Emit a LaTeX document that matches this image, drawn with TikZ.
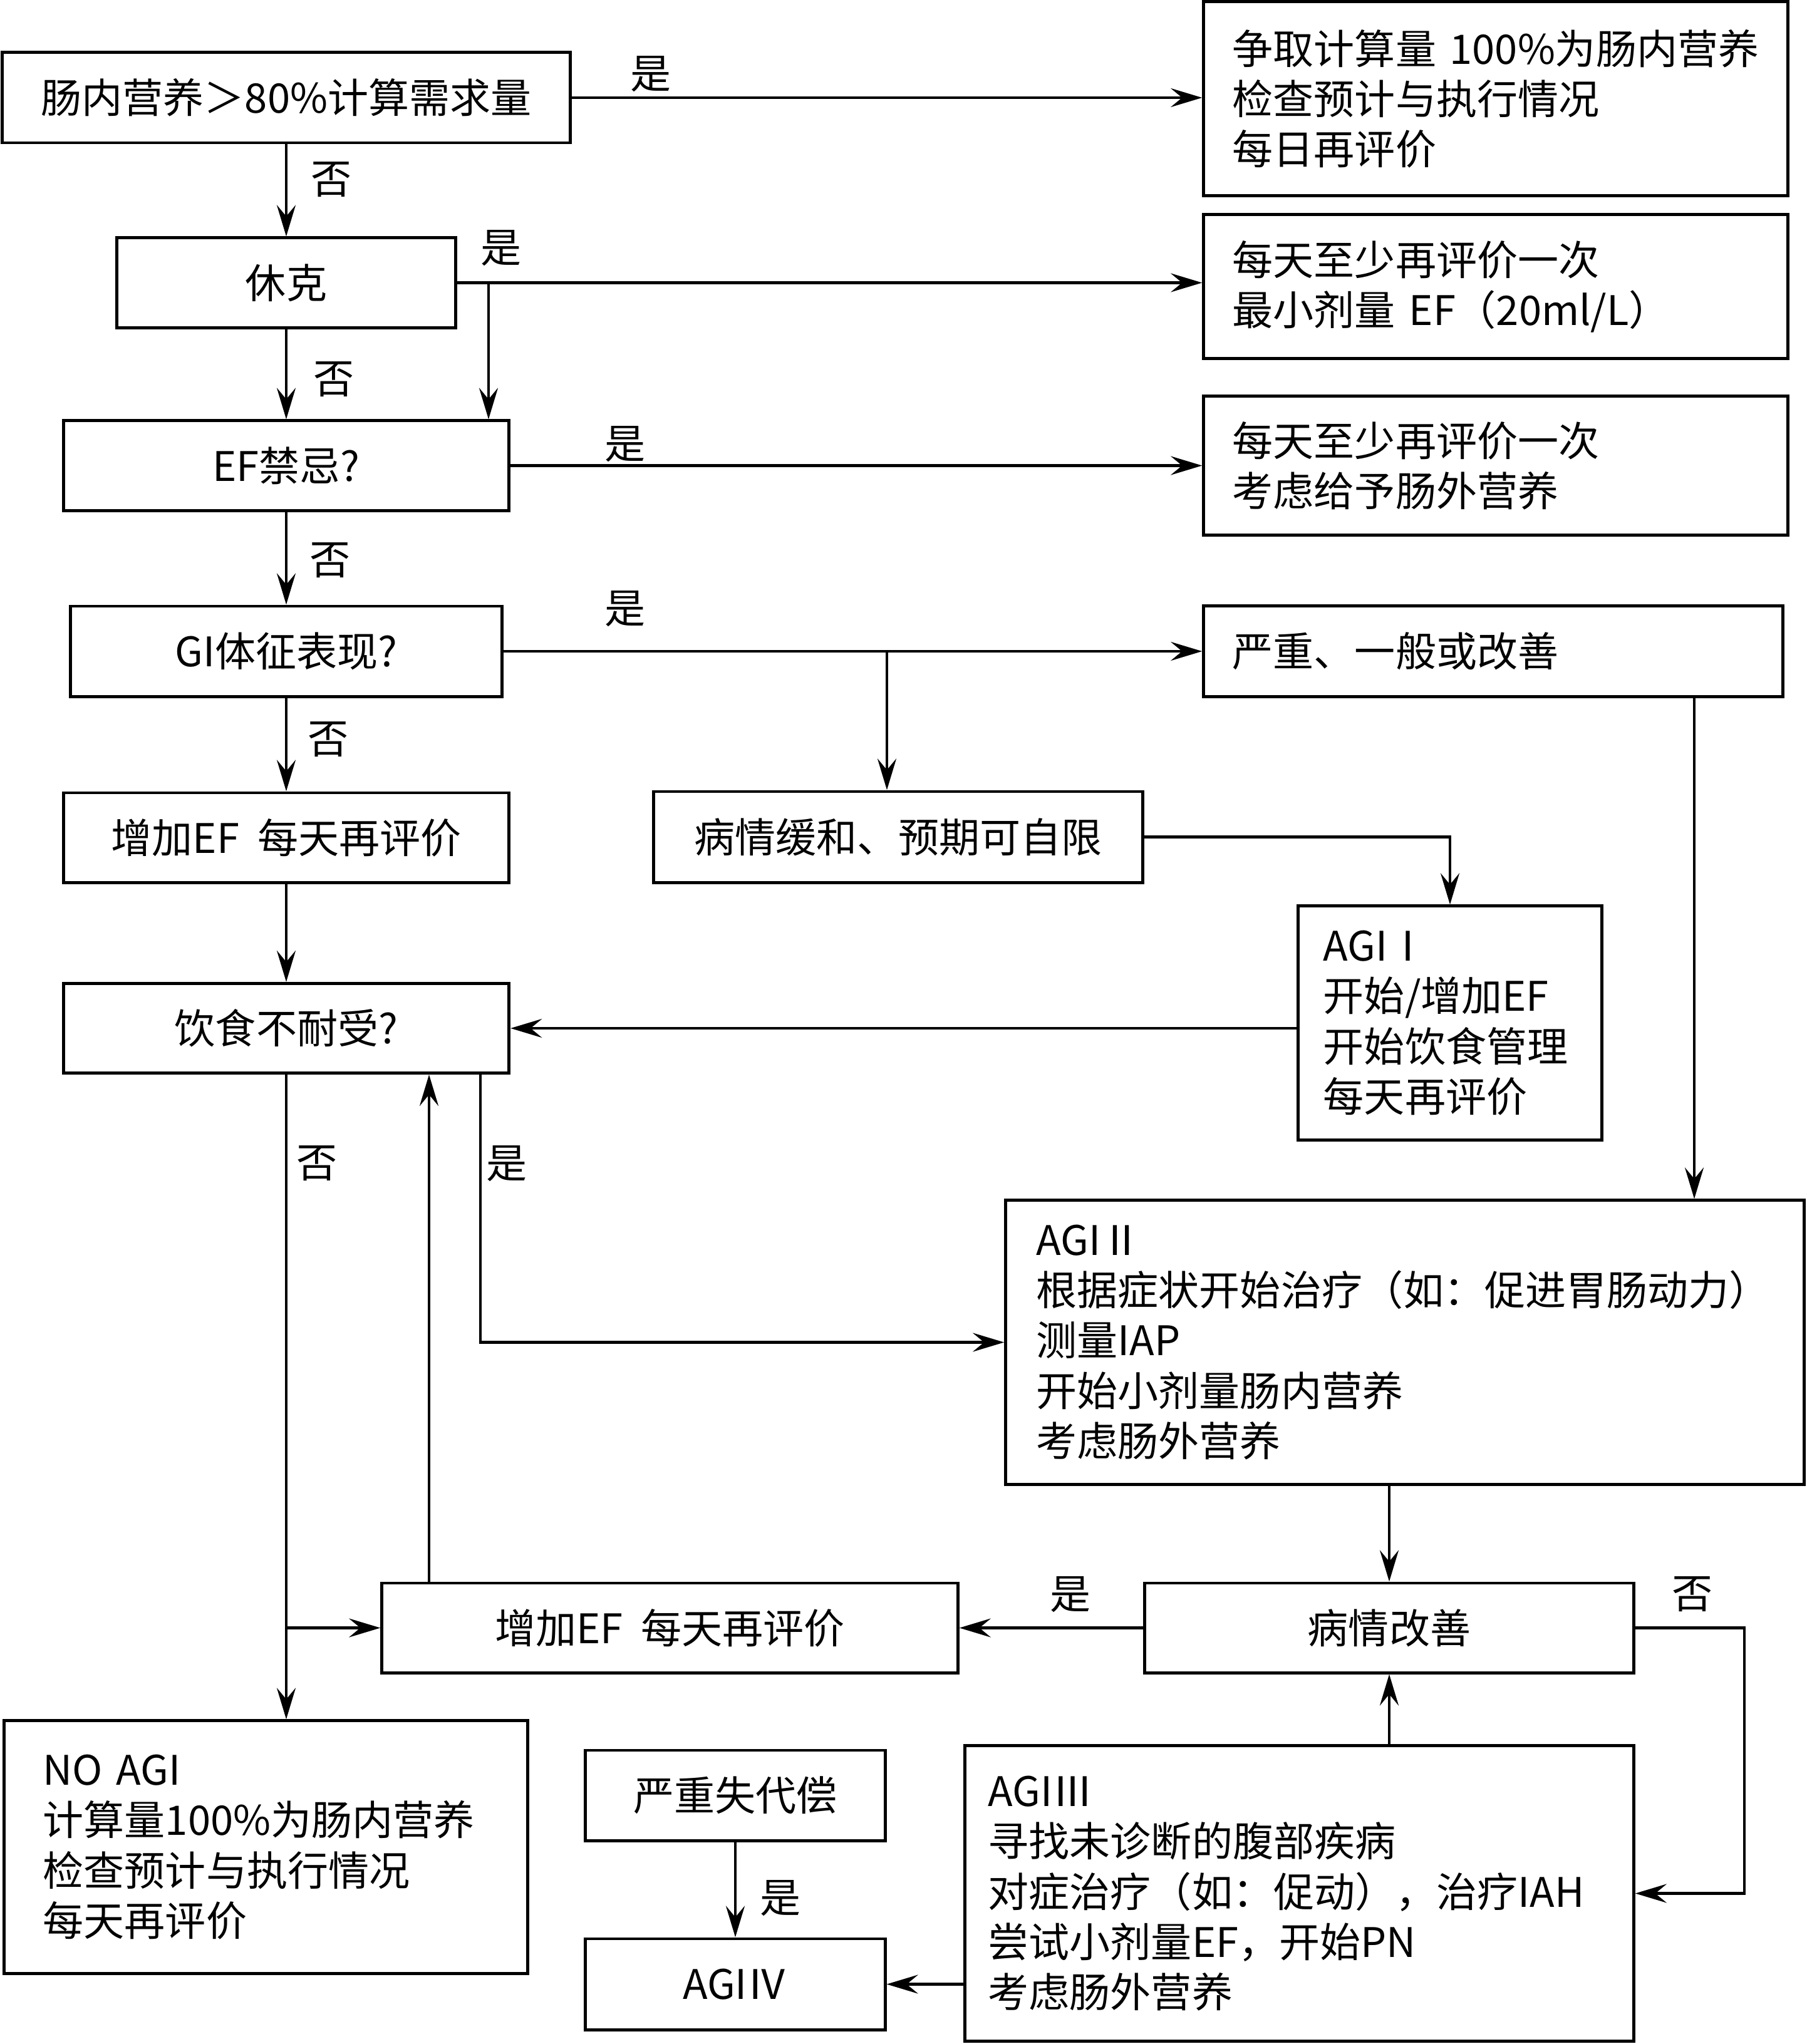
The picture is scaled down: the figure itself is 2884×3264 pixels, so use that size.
\documentclass[tikz,border=0pt]{standalone}
\usepackage{fontspec}
\setmainfont{Noto Sans CJK SC}
\usetikzlibrary{arrows.meta}
\newcommand{\myfont}{\fontsize{18.5}{22.8}\selectfont}
\tikzset{%
  myedge/.style={-{Stealth[length=0.5cm, width=0.3cm, inset=0.18cm]}, line width=1.3pt},
  mybox/.style={rectangle, draw=black, line width=1.4pt, inner sep=0pt, font=\myfont},
  myleft/.style={mybox, align=left},
  mylabel/.style={font=\myfont, inner sep=0pt}
}

\begin{document}
\begin{tikzpicture}[x=0.01cm, y=-0.01cm]
  \useasboundingbox (0,0) rectangle (2884,3264);

% 左列
\node (b1) [mybox, minimum width=9.07cm, minimum height=1.44cm] at (457,156) {肠内营养＞80\%计算需求量};
\node (shock) [mybox, minimum width=5.41cm, minimum height=1.43cm] at (457,451.5) {休克};
\node (efc) [mybox, minimum width=7.11cm, minimum height=1.43cm] at (457,743.5) {EF禁忌?};
\node (gi) [mybox, minimum width=6.88cm, minimum height=1.44cm] at (457,1040) {GI体征表现?};
\node (inc1) [mybox, minimum width=7.11cm, minimum height=1.43cm] at (457,1337.5) {增加EF\ \ 每天再评价};
\node (diet) [mybox, minimum width=7.11cm, minimum height=1.43cm] at (457,1642) {饮食不耐受?};
\node (noagi) [myleft, minimum width=8.35cm, minimum height=4.03cm, text width=7.11cm] at (424.5,2949.5)
  {NO~AGI\\计算量100\%为肠内营养\\检查预计与执行情况\\每天再评价};

% 右列
\node (ra) [myleft, minimum width=9.32cm, minimum height=3.09cm, text width=8.40cm] at (2388,157.5)
  {争取计算量~100\%为肠内营养\\检查预计与执行情况\\每日再评价};
\node (rb) [myleft, minimum width=9.32cm, minimum height=2.29cm, text width=8.40cm] at (2388,457.5)
  {每天至少再评价一次\\最小剂量~EF（20ml/L）};
\node (rc) [myleft, minimum width=9.32cm, minimum height=2.21cm, text width=8.40cm] at (2388,743.5)
  {每天至少再评价一次\\考虑给予肠外营养};
\node (sev) [myleft, minimum width=9.24cm, minimum height=1.45cm, text width=8.32cm] at (2384,1040)
  {严重、一般或改善};
\node (mild) [mybox, minimum width=7.80cm, minimum height=1.45cm] at (1434,1336.5) {病情缓和、预期可自限};
\node (agi1) [myleft, minimum width=4.84cm, minimum height=3.73cm, text width=4.04cm] at (2315,1633.5)
  {AGIⅠ\\开始/增加EF\\开始饮食管理\\每天再评价};
\node (agi2) [myleft, minimum width=12.74cm, minimum height=4.53cm, text width=11.76cm] at (2243,2143.5)
  {AGIⅡ\\根据症状开始治疗（如：促进胃肠动力）\\测量IAP\\开始小剂量肠内营养\\考虑肠外营养};
\node (inc2) [mybox, minimum width=9.19cm, minimum height=1.43cm] at (1069.5,2599.5) {增加EF\ \ 每天再评价};
\node (imp) [mybox, minimum width=7.80cm, minimum height=1.43cm] at (2218,2599.5) {病情改善};
\node (decomp) [mybox, minimum width=4.78cm, minimum height=1.44cm] at (1174,2867) {严重失代偿};
\node (agi4) [mybox, minimum width=4.78cm, minimum height=1.45cm] at (1174,3168.5) {AGIⅣ};
\node (agi3) [myleft, minimum width=10.67cm, minimum height=4.71cm, text width=9.93cm] at (2074.5,3023.5)
  {AGIⅢ\\寻找未诊断的腹部疾病\\对症治疗（如：促动），治疗IAH\\尝试小剂量EF，开始PN\\考虑肠外营养};

\coordinate (j1) at (780,451.5);
\coordinate (j2) at (1416,1040);
\coordinate (j3) at (2705,1111);
\coordinate (jy) at (767,1713);
\coordinate (ju) at (685,2528);
\coordinate (jno) at (2785,2599.5);

% 是/否
\foreach [count=\i] \x/\y/\t in {1039/118/是, 529/287/否, 800/396/是, 533/606/否, 998/709/是,
    527/895/否, 998/972/是, 524/1181/否, 506/1858/否, 809/1858/是, 1709/2546/是, 2702/2546/否, 1246/3031/是} {
  \node (L\i) [mylabel] at (\x,\y) {\t};
}

\draw [myedge] (b1.east) -- (b1.east -| ra.west);
\draw [myedge] (b1.south) -- (shock.north);
\draw [myedge] (shock.east) -- (shock.east -| rb.west);
\draw [myedge] (j1) -- (j1 |- efc.north);
\draw [myedge] (shock.south) -- (efc.north);
\draw [myedge] (efc.east) -- (efc.east -| rc.west);
\draw [myedge] (efc.south) -- (gi.north);
\draw [myedge] (gi.east) -- (gi.east -| sev.west);
\draw [myedge] (j2) -- (j2 |- mild.north);
\draw [myedge] (gi.south) -- (inc1.north);
\draw [myedge] (inc1.south) -- (diet.north);
\draw [myedge] (mild.east) -| (agi1.north);
\draw [myedge] (agi1.west |- diet.east) -- (diet.east);
\draw [myedge] (sev.south -| j3) -- (j3 |- agi2.north);

\draw [myedge] (diet.south) -- (diet.south |- noagi.north);
\draw [myedge] (diet.south |- inc2.west) -- (inc2.west);
\draw [myedge] (jy) |- (agi2.west);
\draw [myedge] (ju) -- (ju |- diet.south);

\draw [myedge] (agi2.south -| imp.north) -- (imp.north);
\draw [myedge] (imp.west) -- (inc2.east);
\draw [myedge] (imp.east) -- (jno) |- (agi3.east);
\draw [myedge] (imp.south |- agi3.north) -- (imp.south);
\draw [myedge] (decomp.south) -- (agi4.north);
\draw [myedge] (agi3.west |- agi4.east) -- (agi4.east);
\end{tikzpicture}
\end{document}
